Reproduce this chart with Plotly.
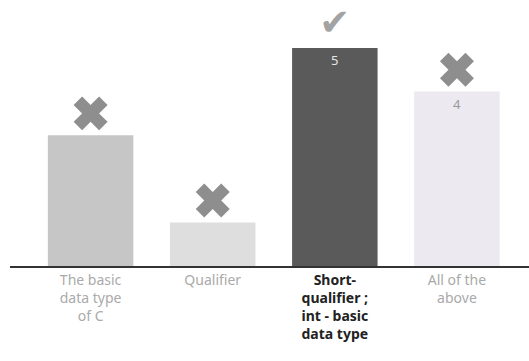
import plotly.graph_objects as go

categories = ["The basic<br>data type<br>of C", "Qualifier", "Short-<br>qualifier ;<br>int - basic<br>data type", "All of the<br>above"]
values = [3, 1, 5, 4]
correct = [False, False, True, False]
show_label = [False, False, True, True]

bar_colors = ["#c6c6c6", "#dedede", "#5a5a5a", "#ece9f1"]
label_colors = ["#999999", "#999999", "#e6e6e6", "#9a9a9a"]

x = list(range(len(categories)))
ticktext = []
for c, ok in zip(categories, correct):
    if ok:
        ticktext.append(f"<span style='color:#222222'><b>{c}</b></span>")
    else:
        ticktext.append(f"<span style='color:#aaaaaa'>{c}</span>")

fig = go.Figure()
fig.add_trace(go.Bar(
    x=x, y=values, width=0.7,
    marker=dict(color=bar_colors, line=dict(width=0)),
    text=[str(v) if s else "" for v, s in zip(values, show_label)],
    textposition="inside", insidetextanchor="end",
    textfont=dict(family="Noto Sans", size=13, color=label_colors),
    hoverinfo="skip",
))

# X marks for incorrect answers
xi = [i for i, ok in zip(x, correct) if not ok]
yi = [v + 0.5 for v, ok in zip(values, correct) if not ok]
fig.add_trace(go.Scatter(
    x=xi, y=yi, mode="markers",
    marker=dict(symbol="x", size=30, color="#8e8e8e", line=dict(width=0)),
    hoverinfo="skip", cliponaxis=False,
))
# Check mark for correct answer
xc = [i for i, ok in zip(x, correct) if ok]
yc = [v + 0.5 for v, ok in zip(values, correct) if ok]
fig.add_trace(go.Scatter(
    x=xc, y=yc, mode="text", text=["✔"] * len(xc),
    textfont=dict(family="DejaVu Sans", size=37, color="#a3a3a3"),
    hoverinfo="skip", cliponaxis=False,
))

fig.update_layout(
    width=529, height=361,
    margin=dict(l=10, r=0, t=0, b=95),
    paper_bgcolor="white", plot_bgcolor="white",
    showlegend=False,
    font=dict(family="Noto Sans", size=14),
    xaxis=dict(
        range=[-0.66, 3.59], tickmode="array", tickvals=x, ticktext=ticktext,
        showline=True, linecolor="#333333", linewidth=2,
        showgrid=False, zeroline=False, ticks="", tickfont=dict(size=14),
        automargin=False,
    ),
    yaxis=dict(range=[0, 6.1], visible=False, showgrid=False, zeroline=False,
               automargin=False),
)

fig.write_html("out.html", config={"displayModeBar": False},
               post_script="document.body.style.margin='0';document.body.style.overflow='hidden';")
